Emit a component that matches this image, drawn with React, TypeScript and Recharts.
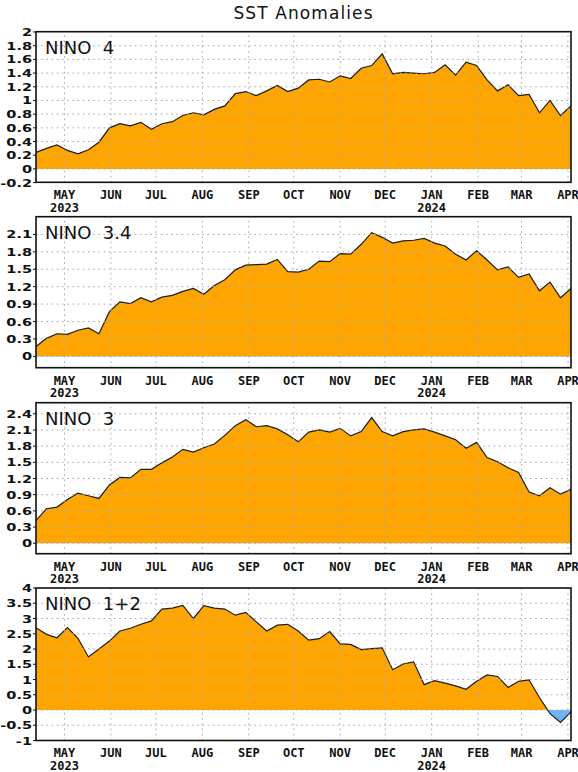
import React from 'react';
import { AreaChart, Area, XAxis, YAxis, ReferenceLine } from 'recharts';

// Weekly (Wednesday-centred) dates
const WEEKS = [
  '2023-04-12', '2023-04-19', '2023-04-26', '2023-05-03', '2023-05-10', '2023-05-17', '2023-05-24', '2023-05-31',
  '2023-06-07', '2023-06-14', '2023-06-21', '2023-06-28', '2023-07-05', '2023-07-12', '2023-07-19', '2023-07-26',
  '2023-08-02', '2023-08-09', '2023-08-16', '2023-08-23', '2023-08-30', '2023-09-06', '2023-09-13', '2023-09-20',
  '2023-09-27', '2023-10-04', '2023-10-11', '2023-10-18', '2023-10-25', '2023-11-01', '2023-11-08', '2023-11-15',
  '2023-11-22', '2023-11-29', '2023-12-06', '2023-12-13', '2023-12-20', '2023-12-27', '2024-01-03', '2024-01-10',
  '2024-01-17', '2024-01-24', '2024-01-31', '2024-02-07', '2024-02-14', '2024-02-21', '2024-02-28', '2024-03-06',
  '2024-03-13', '2024-03-20', '2024-03-27', '2024-04-03',
];

const NINO4 = [
  0.24, 0.30, 0.35, 0.27, 0.22, 0.28, 0.39, 0.60, 0.66, 0.63, 0.68, 0.58, 0.66, 0.69, 0.78, 0.82, 0.79, 0.87,
  0.92, 1.10, 1.13, 1.07, 1.14, 1.22, 1.13, 1.18, 1.30, 1.31, 1.27, 1.36, 1.32, 1.47, 1.51, 1.68, 1.39, 1.41,
  1.40, 1.39, 1.41, 1.52, 1.37, 1.56, 1.51, 1.30, 1.14, 1.23, 1.07, 1.09, 0.82, 1.00, 0.78, 0.92,
];

const NINO34 = [
  0.17, 0.31, 0.39, 0.38, 0.45, 0.49, 0.39, 0.77, 0.94, 0.91, 1.01, 0.94, 1.02, 1.05, 1.12, 1.17, 1.07, 1.22,
  1.32, 1.49, 1.57, 1.58, 1.59, 1.67, 1.46, 1.45, 1.50, 1.64, 1.63, 1.77, 1.76, 1.93, 2.13, 2.05, 1.95, 1.99,
  2.00, 2.03, 1.95, 1.90, 1.76, 1.66, 1.82, 1.66, 1.49, 1.54, 1.36, 1.42, 1.13, 1.28, 1.01, 1.17,
];

const NINO3 = [
  0.42, 0.64, 0.67, 0.81, 0.93, 0.88, 0.83, 1.08, 1.22, 1.21, 1.37, 1.37, 1.49, 1.60, 1.74, 1.69, 1.77, 1.84,
  2.00, 2.18, 2.29, 2.16, 2.18, 2.12, 2.01, 1.88, 2.06, 2.10, 2.06, 2.13, 1.99, 2.07, 2.33, 2.07, 1.99, 2.07,
  2.10, 2.12, 2.06, 1.99, 1.92, 1.76, 1.87, 1.59, 1.51, 1.40, 1.31, 0.95, 0.88, 1.03, 0.91, 1.00,
];

const NINO12 = [
  2.70, 2.48, 2.37, 2.70, 2.35, 1.74, 2.00, 2.26, 2.59, 2.68, 2.81, 2.92, 3.31, 3.34, 3.43, 3.00, 3.42, 3.34,
  3.31, 3.11, 3.20, 2.89, 2.59, 2.78, 2.81, 2.59, 2.29, 2.34, 2.57, 2.17, 2.15, 1.98, 2.01, 2.04, 1.32, 1.51,
  1.58, 0.83, 0.96, 0.88, 0.79, 0.68, 0.94, 1.15, 1.10, 0.74, 0.94, 0.99, 0.40, -0.12, -0.41, -0.06,
];

const MONTH_TICKS = [
  '2023-05-01', '2023-06-01', '2023-07-01', '2023-08-01', '2023-09-01', '2023-10-01',
  '2023-11-01', '2023-12-01', '2024-01-01', '2024-02-01', '2024-03-01', '2024-04-01',
];
const MONTH_LABELS = ['MAY', 'JUN', 'JUL', 'AUG', 'SEP', 'OCT', 'NOV', 'DEC', 'JAN', 'FEB', 'MAR', 'APR'];
const YEAR_LABELS = ['2023', '', '', '', '', '', '', '', '2024', '', '', ''];

const X_START = '2023-04-12';
const X_END = '2024-04-03';

const Y_TICKS_4 = [-0.2, 0, 0.2, 0.4, 0.6, 0.8, 1, 1.2, 1.4, 1.6, 1.8, 2];
const Y_TICKS_34 = [0, 0.3, 0.6, 0.9, 1.2, 1.5, 1.8, 2.1];
const Y_TICKS_3 = [0, 0.3, 0.6, 0.9, 1.2, 1.5, 1.8, 2.1, 2.4];
const Y_TICKS_12 = [-1, -0.5, 0, 0.5, 1, 1.5, 2, 2.5, 3, 3.5, 4];

const TITLE = 'SST Anomalies';

const ORANGE = '#FFA500';
const BLUE = '#6FB4F0';
const GRID = '#a8a8a8';
const INK = '#111111';

const toT = (s: string) => Date.parse(s + 'T00:00:00Z');
const MONTH_T = MONTH_TICKS.map(toT);
const T0 = toT(X_START);
const T1 = toT(X_END);

const PLOT_LEFT = 36;
const PLOT_RIGHT_MARGIN = 7;
const W = 578;
const MT = 5;
const XH = 35;

type PanelCfg = {
  id: string;
  label: string;
  values: number[];
  ticks: number[];
  domain: [number, number];
  top: number;
  bottom: number;
};

const PANELS: PanelCfg[] = [
  { id: 'n4', label: 'NINO  4', values: NINO4, ticks: Y_TICKS_4, domain: [-0.2, 2], top: 31.7, bottom: 182.3 },
  { id: 'n34', label: 'NINO  3.4', values: NINO34, ticks: Y_TICKS_34, domain: [-0.2, 2.4], top: 216.7, bottom: 367.7 },
  { id: 'n3', label: 'NINO  3', values: NINO3, ticks: Y_TICKS_3, domain: [-0.2, 2.6], top: 402.7, bottom: 553.7 },
  { id: 'n12', label: 'NINO  1+2', values: NINO12, ticks: Y_TICKS_12, domain: [-1, 4], top: 588, bottom: 740.5 },
];

const fmt = (v: number) => String(Number(v.toFixed(1)));

function Panel({ p }: { p: PanelCfg }) {
  const plotH = p.bottom - p.top;
  const H = MT + plotH + XH;
  const plotBottom = MT + plotH;
  const data = WEEKS.map((w, i) => ({ t: toT(w), v: p.values[i] }));
  const max = Math.max(0, ...p.values);
  const min = Math.min(0, ...p.values);
  const off = max / (max - min);
  const gridY = p.ticks.filter((v) => v > p.domain[0] && v < p.domain[1]);

  const renderXTick = (props: any) => {
    const { x, payload } = props;
    const i = MONTH_T.indexOf(payload.value);
    return (
      <g>
        <text x={x} y={plotBottom + 16.8} textAnchor="middle" fontFamily="DejaVu Sans Mono" fontWeight="bold" fontSize={12} fill={INK}>
          {MONTH_LABELS[i]}
        </text>
        {YEAR_LABELS[i] ? (
          <text x={x} y={plotBottom + 29.2} textAnchor="middle" fontFamily="DejaVu Sans Mono" fontWeight="bold" fontSize={12} fill={INK}>
            {YEAR_LABELS[i]}
          </text>
        ) : null}
      </g>
    );
  };

  const renderYTick = (props: any) => {
    const { y, payload } = props;
    return (
      <g transform={`translate(32,${y}) scale(1.32,1)`}>
        <text x={0} y={0} dy={4} textAnchor="end" fontFamily="DejaVu Sans" fontWeight="bold" fontSize={11} fill={INK}>
          {fmt(payload.value)}
        </text>
      </g>
    );
  };

  return (
    <div style={{ position: 'absolute', left: 0, top: p.top - MT }}>
      <AreaChart width={W} height={H} data={data} margin={{ top: MT, right: PLOT_RIGHT_MARGIN, bottom: 0, left: 0 }}>
        <defs>
          <linearGradient id={`g-${p.id}`} x1="0" y1="0" x2="0" y2="1">
            <stop offset={off} stopColor={ORANGE} />
            <stop offset={off} stopColor={BLUE} />
          </linearGradient>
        </defs>
        <XAxis
          dataKey="t"
          type="number"
          domain={[T0, T1]}
          ticks={MONTH_T}
          interval={0}
          tick={renderXTick}
          tickLine={false}
          axisLine={false}
          height={XH}
          allowDataOverflow
        />
        <YAxis
          type="number"
          domain={p.domain}
          ticks={p.ticks}
          interval={0}
          width={PLOT_LEFT}
          tick={renderYTick}
          tickSize={3}
          tickLine={{ stroke: INK, strokeWidth: 1 }}
          axisLine={false}
          allowDataOverflow
        />
        <Area
          type="linear"
          dataKey="v"
          baseValue={0}
          stroke="#1c1c1c"
          strokeWidth={1.2}
          fill={`url(#g-${p.id})`}
          fillOpacity={1}
          dot={false}
          activeDot={false}
          isAnimationActive={false}
        />
        {gridY.map((v) => (
          <ReferenceLine key={`y${v}`} y={v} stroke={GRID} strokeWidth={1} strokeDasharray="1.6 3.6" />
        ))}
        {MONTH_T.map((t) => (
          <ReferenceLine key={`x${t}`} x={t} stroke={GRID} strokeWidth={1} strokeDasharray="1.6 3.6" />
        ))}
      </AreaChart>
    </div>
  );
}

export default function App() {
  return (
    <div style={{ position: 'absolute', left: 0, top: 0, width: W, height: 772, background: '#fff', overflow: 'hidden' }}>
      {PANELS.map((p) => (
        <Panel key={p.id} p={p} />
      ))}
      <svg width={W} height={772} style={{ position: 'absolute', left: 0, top: 0, pointerEvents: 'none' }}>
        <text x={303.5} y={19.3} textAnchor="middle" fontFamily="DejaVu Sans" fontSize={17} letterSpacing={1.1} fill={INK}>
          {TITLE}
        </text>
        {PANELS.map((p) => (
          <g key={p.id}>
            <rect x={PLOT_LEFT} y={p.top} width={W - PLOT_LEFT - PLOT_RIGHT_MARGIN} height={p.bottom - p.top} fill="none" stroke={INK} strokeWidth={1.6} />
            <text x={45} y={p.top + 21.8} fontFamily="DejaVu Sans" fontSize={18} fill={INK} style={{ whiteSpace: 'pre' }}>
              {p.label}
            </text>
          </g>
        ))}
      </svg>
    </div>
  );
}
